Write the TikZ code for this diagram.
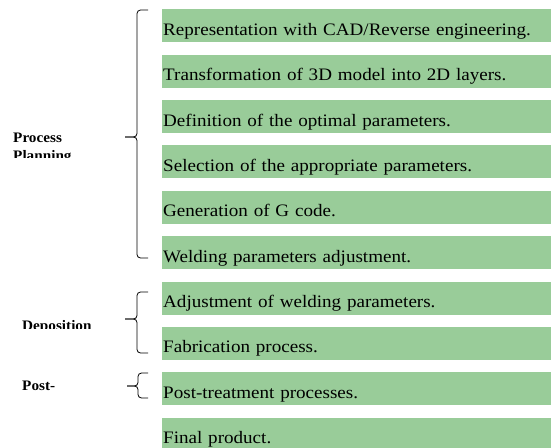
\documentclass[tikz,border=0pt]{standalone}
\usepackage{fontspec}
\setmainfont{Liberation Serif}[FakeStretch=1.09]
\newfontfamily\lblfont{Liberation Serif}[FakeStretch=1.05]
\definecolor{boxgreen}{HTML}{99CC99}
\tikzset{
  stepbox/.style={fill=boxgreen, draw=none, anchor=north west, inner xsep=1pt, inner ysep=0pt,
    text width=387pt, align=left, text height=26pt, text depth=7pt,
    font=\fontsize{17.5}{19}\selectfont},
  lbl/.style={anchor=base west, inner sep=0pt, font=\lblfont\fontsize{14.5}{17}\selectfont\bfseries},
  brace/.style={draw=black, line width=0.8pt, rounded corners=3.5pt}
}
\begin{document}
\begin{tikzpicture}[x=1pt,y=-1pt]
\useasboundingbox (0,0) rectangle (551,447);
% boxes
\node[stepbox] (b1) at (162,9) {Representation with CAD/Reverse engineering.};
\node[stepbox] (b2) at (162,54.4) {Transformation of 3D model into 2D layers.};
\node[stepbox] (b3) at (162,99.8) {Definition of the optimal parameters.};
\node[stepbox] (b4) at (162,145.1) {Selection of the appropriate parameters.};
\node[stepbox] (b5) at (162,190.5) {Generation of G code.};
\node[stepbox] (b6) at (162,236) {Welding parameters adjustment.};
\node[stepbox] (b7) at (162,281.3) {Adjustment of welding parameters.};
\node[stepbox] (b8) at (162,326.7) {Fabrication process.};
\node[stepbox] (b9) at (162,372) {Post-treatment processes.};
\node[stepbox] (b10) at (162,417.4) {Final product.};
% labels (clipped as in the reference)
\begin{scope}
\clip (0,100) rectangle (120,157.5);
\node[lbl] (l1) at (13,142) {Process};
\node[lbl] (l1b) at (13,160) {Planning};
\end{scope}
\begin{scope}
\clip (0,300) rectangle (120,328.5);
\node[lbl] (l2) at (22,330.5) {Deposition};
\end{scope}
\node[lbl] (l3) at (22,390) {Post-};
% braces
\coordinate (p1t) at (148,10);
\coordinate (p1m) at (125,137);
\coordinate (p1b) at (148,258);
\draw[brace] (p1t) -- (137,10) -- (137,137) -- (p1m);
\draw[brace] (p1m) -- (137,137) -- (137,258) -- (p1b);
\coordinate (p2t) at (148,292);
\coordinate (p2m) at (125,319);
\coordinate (p2b) at (148,353);
\draw[brace] (p2t) -- (137,292) -- (137,319) -- (p2m);
\draw[brace] (p2m) -- (137,319) -- (137,353) -- (p2b);
\coordinate (p3t) at (148,373);
\coordinate (p3m) at (127,386);
\coordinate (p3b) at (148,398);
\draw[brace] (p3t) -- (138,373) -- (138,386) -- (p3m);
\draw[brace] (p3m) -- (138,386) -- (138,398) -- (p3b);
\end{tikzpicture}
\end{document}
